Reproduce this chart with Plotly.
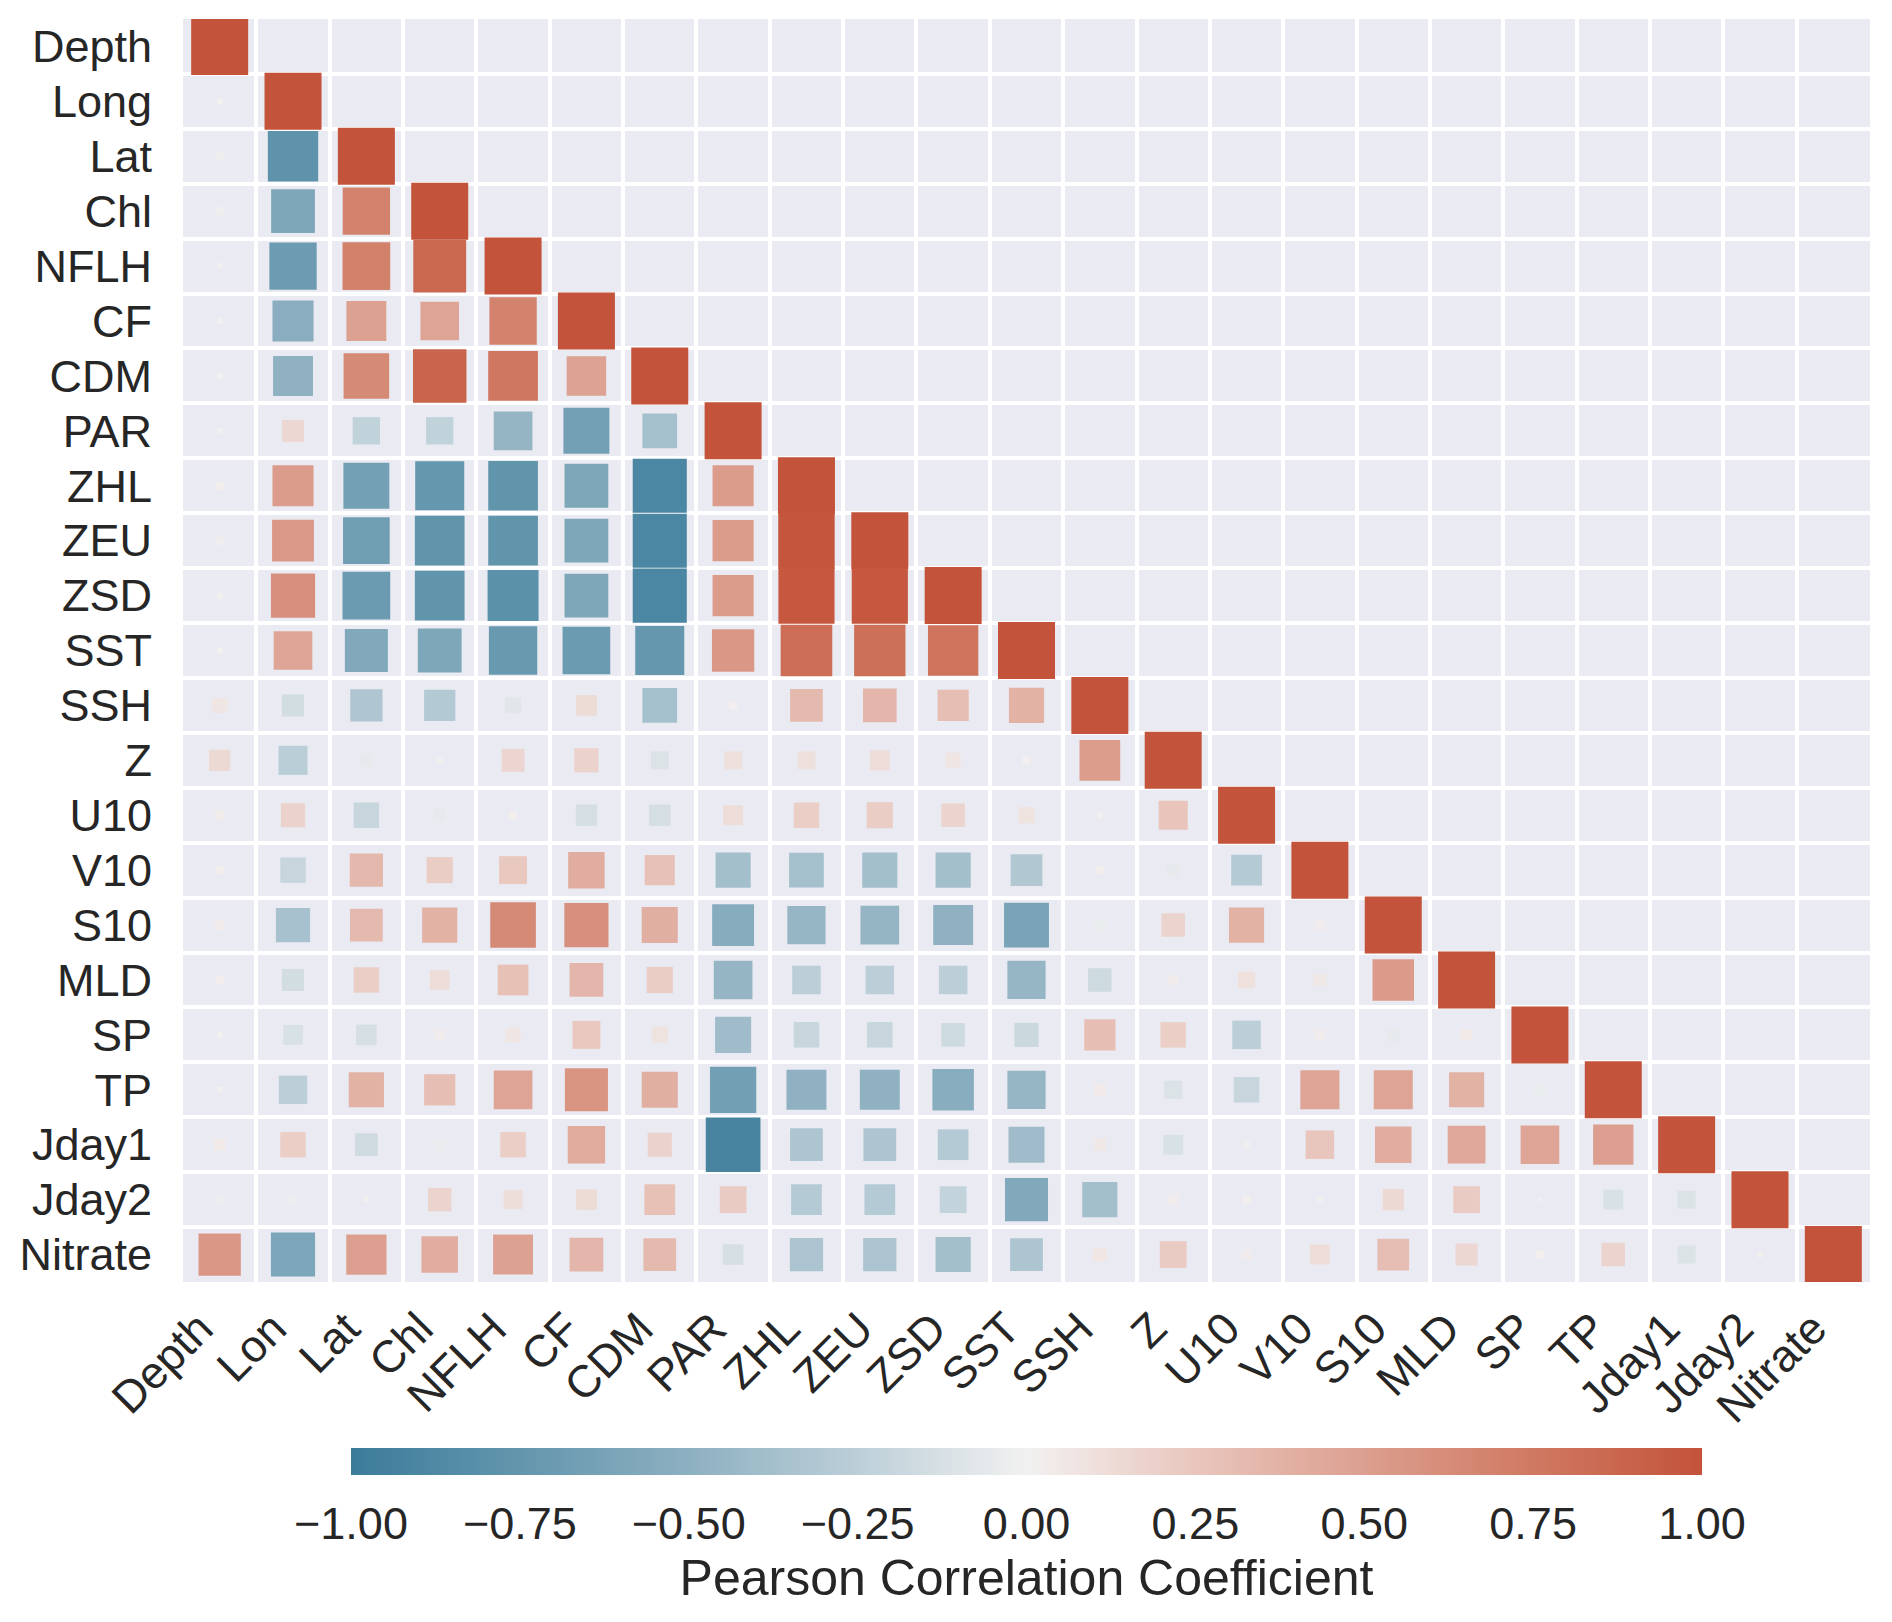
import numpy as np
import plotly.graph_objects as go

# row labels (y) and column labels (x)
row_labels = ["Depth", "Long", "Lat", "Chl", "NFLH", "CF", "CDM", "PAR", "ZHL", "ZEU",
              "ZSD", "SST", "SSH", "Z", "U10", "V10", "S10", "MLD", "SP", "TP",
              "Jday1", "Jday2", "Nitrate"]
col_labels = ["Depth", "Lon", "Lat", "Chl", "NFLH", "CF", "CDM", "PAR", "ZHL", "ZEU",
              "ZSD", "SST", "SSH", "Z", "U10", "V10", "S10", "MLD", "SP", "TP",
              "Jday1", "Jday2", "Nitrate"]

# lower triangle of the correlation matrix (diagonal = 1 added below)
depth = []
long_ = [0.01]
lat = [-0.02, -0.78]
chl = [-0.02, -0.59, 0.69]
nflh = [0.01, -0.69, 0.7, 0.86]
cf = [0.01, -0.52, 0.49, 0.46, 0.69]
cdm = [-0.01, -0.49, 0.64, 0.88, 0.76, 0.48]
par = [-0.01, 0.15, -0.23, -0.23, -0.46, -0.65, -0.37]
zhl = [0.02, 0.52, -0.65, -0.74, -0.76, -0.59, -0.9, 0.52]
zeu = [0.02, 0.54, -0.67, -0.76, -0.76, -0.59, -0.9, 0.52, 0.98]
zsd = [0.01, 0.6, -0.7, -0.76, -0.8, -0.59, -0.9, 0.52, 0.97, 0.97]
sst = [0.01, 0.46, -0.57, -0.59, -0.72, -0.7, -0.74, 0.55, 0.82, 0.81, 0.78]
ssh = [0.07, -0.15, -0.32, -0.3, -0.08, 0.13, -0.37, 0.02, 0.33, 0.35, 0.3, 0.38]
z = [0.14, -0.26, -0.05, 0.01, 0.16, 0.18, -0.1, 0.1, 0.1, 0.12, 0.07, 0.02, 0.51]
u10 = [0.03, 0.18, -0.2, -0.05, 0.02, -0.14, -0.14, 0.12, 0.2, 0.21, 0.17, 0.08, 0.01, 0.26]
v10 = [0.02, -0.2, 0.34, 0.21, 0.24, 0.41, 0.28, -0.38, -0.37, -0.38, -0.38, -0.31, 0.02, -0.05,
       -0.29]
s10 = [0.03, -0.36, 0.33, 0.38, 0.64, 0.6, 0.4, -0.54, -0.45, -0.46, -0.49, -0.62, -0.04, 0.17,
       0.38, 0.03]
mld = [0.02, -0.15, 0.2, 0.12, 0.29, 0.35, 0.21, -0.46, -0.25, -0.25, -0.25, -0.45, -0.17, 0.03,
       0.09, 0.05, 0.53]
sp = [0.01, -0.12, -0.13, 0.03, 0.07, 0.24, 0.08, -0.4, -0.2, -0.2, -0.17, -0.18, 0.3, 0.2,
      -0.25, 0.03, -0.05, 0.04]
tp = [0.01, -0.25, 0.38, 0.3, 0.46, 0.57, 0.4, -0.66, -0.49, -0.49, -0.53, -0.45, 0.04, -0.1,
      -0.2, 0.47, 0.47, 0.38, -0.04]
jday1 = [0.04, 0.2, -0.16, -0.04, 0.2, 0.43, 0.18, -0.92, -0.33, -0.33, -0.29, -0.4, 0.05, -0.12,
         -0.02, 0.25, 0.41, 0.44, 0.46, 0.5]
jday2 = [-0.03, -0.03, 0.01, 0.17, 0.11, 0.13, 0.29, 0.22, -0.29, -0.29, -0.22, -0.57, -0.38, 0.03,
         0.02, 0.01, 0.14, 0.22, 0.003, -0.12, -0.1]
nitrate = [0.55, -0.6, 0.5, 0.41, 0.49, 0.35, 0.33, -0.13, -0.34, -0.34, -0.38, -0.33, 0.06, 0.22,
           0.03, 0.12, 0.31, 0.15, 0.02, 0.17, -0.1, 0.01]

rows = [depth, long_, lat, chl, nflh, cf, cdm, par, zhl, zeu, zsd, sst, ssh, z, u10, v10,
        s10, mld, sp, tp, jday1, jday2, nitrate]

xs, ys, vals = [], [], []
for i, row in enumerate(rows):
    for j, v in enumerate(list(row) + [1.0]):
        xs.append(j)
        ys.append(i)
        vals.append(v)
vals = np.array(vals)

max_size = 57
sizes = max_size * np.sqrt(np.abs(vals))

# seaborn diverging_palette(220, 20)-like
colorscale = [
    [0.0, "#3b7b9a"],
    [0.125, "#6396ad"],
    [0.25, "#8db0c1"],
    [0.375, "#bccfd8"],
    [0.5, "#f2f1f1"],
    [0.625, "#e9c6bd"],
    [0.75, "#dc9f8f"],
    [0.875, "#d07962"],
    [1.0, "#c3533a"],
]

font = "Liberation Sans, Arial, sans-serif"
txt = "#262626"
n = len(row_labels)
bounds = [k - 0.5 for k in range(n + 1)]

fig = go.Figure(go.Scatter(
    x=xs, y=ys, mode="markers",
    marker=dict(
        symbol="square", size=sizes, color=vals, colorscale=colorscale,
        cmin=-1, cmax=1, line=dict(width=0), opacity=1,
        colorbar=dict(
            orientation="h", x=0.5, xanchor="center", y=-0.1315, yanchor="top",
            len=0.801, lenmode="fraction", thickness=27, outlinewidth=0,
            xpad=0, ypad=0,
            tickvals=[-1, -0.75, -0.5, -0.25, 0, 0.25, 0.5, 0.75, 1],
            tickformat=".2f", ticks="outside", ticklen=10, tickcolor="rgba(0,0,0,0)",
            tickfont=dict(family=font, size=45, color=txt),
            title=dict(text="Pearson Correlation Coefficient", side="bottom",
                       font=dict(family=font, size=50, color=txt)),
        ),
    ),
    hoverinfo="skip", showlegend=False,
))

fig.update_xaxes(
    range=[-0.5, n - 0.5], tickvals=list(range(n)), ticktext=col_labels,
    tickangle=-45, tickfont=dict(family=font, size=45, color=txt),
    showgrid=False, zeroline=False, showline=False, ticks="",
    ticklabelstandoff=10, ticklabelshift=-20,
    minor=dict(tickvals=bounds, showgrid=True, gridcolor="white", gridwidth=4, ticks=""),
)
fig.update_yaxes(
    range=[n - 0.5, -0.5], tickvals=list(range(n)), ticktext=row_labels,
    tickfont=dict(family=font, size=45, color=txt),
    showgrid=False, zeroline=False, showline=False, ticks="",
    ticklabelstandoff=30,
    minor=dict(tickvals=bounds, showgrid=True, gridcolor="white", gridwidth=4, ticks=""),
)

# page body has an 8px margin, so the figure is kept 8px smaller on each side
fig.update_layout(
    width=1884, height=1614,
    margin=dict(l=172, r=22, t=11, b=340),
    plot_bgcolor="#EAEAF2", paper_bgcolor="white",
    font=dict(family=font, color=txt),
)

fig.write_html("out.html")
